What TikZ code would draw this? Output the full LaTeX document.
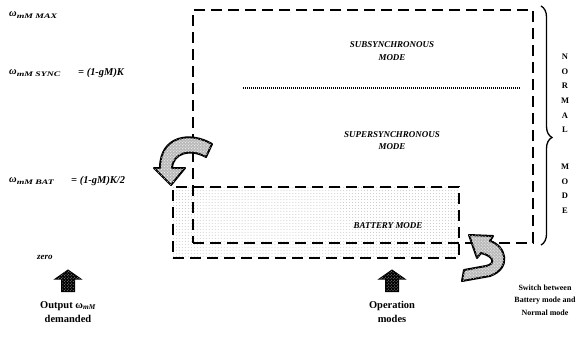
\documentclass[tikz,border=0pt]{standalone}
\usepackage{fontspec}
\setmainfont{Liberation Serif}
\usepackage{tikz}
\usetikzlibrary{
	shapes.arrows,
	positioning,
	patterns,
	decorations.pathreplacing
}

\newcommand{\speedsub}[1]{\raisebox{-2bp}{\scalebox{1.4}[1]{\fontsize{7}{7}\selectfont #1}}}

\begin{document}
\begin{tikzpicture}[
	x=1bp, y=-1bp,
	level/.style={
		anchor=west, inner sep=0pt,
		font=\fontsize{10.5}{11}\selectfont\bfseries\itshape
	},
	modetext/.style={
		align=center, inner sep=0pt,
		font=\fontsize{9}{12.5}\selectfont\bfseries\itshape
	},
	dashbox/.style={
		draw, line width=2bp, dash pattern=on 11bp off 6bp
	},
	batterybox/.style={
		dashbox, pattern=dots, pattern color=gray!45
	},
	uparrow/.style={
		single arrow, draw, line width=1.5bp,
		fill=black, postaction={pattern=crosshatch dots, pattern color=gray!70},
		shape border rotate=90, single arrow tip angle=110,
		minimum height=21bp, inner xsep=5.5bp, inner ysep=0pt,
		single arrow head extend=6bp
	},
	curvearrow/.style={
		draw, line width=2bp, line join=round,
		fill=gray!55, postaction={pattern=crosshatch dots, pattern color=white}
	},
	caption/.style={
		align=center, inner sep=0pt,
		font=\fontsize{10.5}{14}\selectfont\bfseries
	},
	letter/.style={
		inner sep=0pt, font=\fontsize{8.5}{9}\selectfont\bfseries
	}
	]
	\useasboundingbox (0,0) rectangle (577,340);

	% battery mode (stippled, drawn first)
	\node[batterybox, minimum width=286bp, minimum height=71bp] (battery) at (316,222.5) {};

	% normal mode region
	\node[dashbox, minimum width=340bp, minimum height=233bp] (normal) at (363,126.5) {};

	% border between sub- and supersynchronous
	\coordinate (divL) at (243,88);
	\coordinate (divR) at (520,88);
	\draw[line width=1.2bp, dash pattern=on 1.2bp off 0.8bp] (divL) -- (divR);

	% mode names
	\node[modetext] (subsync) at (392,51) {SUBSYNCHRONOUS\\MODE};
	\node[modetext] (supersync) at (392,140.5) {SUPERSYNCHRONOUS\\MODE};
	\node[modetext] (batname) at (388,226) {BATTERY MODE};

	% speed levels
	\node[level] (wmax) at (9,15) {ω\speedsub{mM MAX}};
	\node[level] (wsync) at (9,73) {ω\speedsub{mM SYNC}};
	\node[level] (ksync) at (78,73) {= (1-gM)K};
	\node[level] (wbat) at (9,181) {ω\speedsub{mM BAT}};
	\node[level] (kbat) at (71,181) {= (1-gM)K/2};
	\node[level, font=\fontsize{9}{9}\selectfont\bfseries\itshape] (zero) at (37,257) {zero};

	% normal mode brace
	\coordinate (braceTop) at (541,6);
	\coordinate (braceBot) at (541,245);
	\draw[decorate, decoration={brace, amplitude=11bp, aspect=0.55}, line width=1.3bp] (braceTop) -- (braceBot);
	\foreach \ch [count=\i] in {N,O,R,M,A,L}
		\node[letter] (nl\i) at (565,{57+14.6*(\i-1)}) {\ch};
	\foreach \ch [count=\i] in {M,O,D,E}
		\node[letter] (md\i) at (565,{167+14.6*(\i-1)}) {\ch};

	% switching arrows
	\draw[curvearrow] (212,144) .. controls (190,131) and (160,136) .. (160,168)
		-- (154,168) -- (171,185) -- (185,168) -- (172,168)
		.. controls (173,153) and (190,148) .. (206,157) -- cycle;
	\draw[curvearrow] (462,281) -- (490,276) .. controls (512,268) and (506,246) .. (490,241)
		-- (493,236) -- (469,235) -- (477,258) -- (481,253)
		.. controls (494,256) and (496,264) .. (486,266) -- (464,270) -- cycle;

	% demanded speed
	\node[uparrow] (outarrow) at (68,283) {};
	\node[caption, below=9bp of outarrow] (outlabel) {Output ω\textsubscript{\itshape mM}\\demanded};

	% operation modes
	\node[uparrow] (oparrow) at (392,283) {};
	\node[caption, below=9bp of oparrow] (oplabel) {Operation\\modes};

	% switch note
	\node[align=center, inner sep=0pt, font=\fontsize{8}{12.5}\selectfont\bfseries] (switch) at (545,300) {Switch between\\Battery mode and\\Normal mode};
\end{tikzpicture}
\end{document}
